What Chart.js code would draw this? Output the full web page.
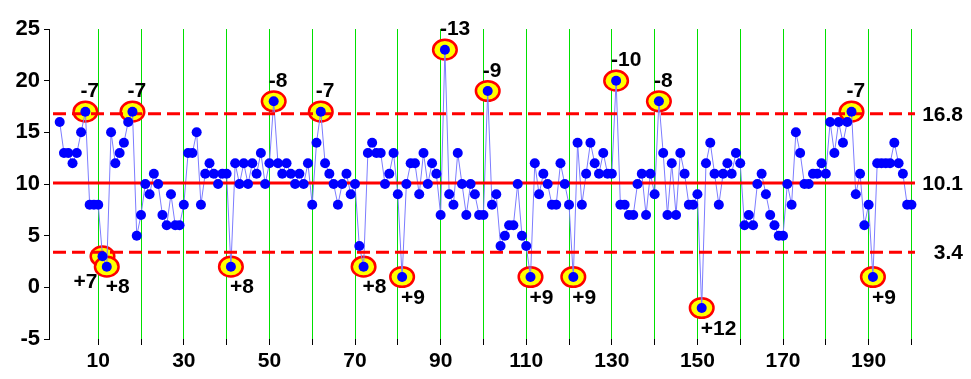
<!DOCTYPE html>
<html><head><meta charset="utf-8">
<script src="https://cdn.jsdelivr.net/npm/chart.js@4/dist/chart.umd.min.js"></script>
<style>html,body{margin:0;padding:0;background:#fff}#wrap{width:971px;height:379px}</style>
</head><body><div id="wrap"><canvas id="c" width="971" height="379"></canvas></div>
<script>
// observation values, sample 1..200
const values = [
 16,13,13,12,13,15,17,8,8,8,
 3,2,15,12,13,14,16,17,5,7,
 10,9,11,10,7,6,9,6,6,8,
 13,13,15,8,11,12,11,10,11,11,
 2,12,10,12,10,12,11,13,10,12,
 18,12,11,12,11,10,11,10,12,8,
 14,17,12,11,10,8,10,11,9,10,
 4,2,13,14,13,13,10,11,13,9,
 1,10,12,12,9,13,10,12,11,7,
 23,9,8,13,10,7,10,9,7,7,
 19,8,9,4,5,6,6,10,5,4,
 1,12,9,11,10,8,8,12,10,8,
 1,14,8,11,14,12,11,13,11,11,
 20,8,8,7,7,10,11,7,11,9,
 18,13,7,12,7,13,11,8,8,9,
 -2,12,14,11,8,11,12,11,13,12,
 6,7,6,10,11,9,7,6,5,5,
 10,8,15,13,10,10,11,11,12,11,
 16,13,16,14,16,17,9,11,6,8,
 1,12,12,12,12,14,12,11,8,8
];
const centerLine = 10.1;
const upperLimit = 16.8;
const lowerLimit = 3.4;
const limitLabels = ['16.8', '10.1', '3.4'];
const flaggedIndex = [7,11,12,18,41,51,62,72,81,91,101,111,121,131,141,151,186,191];
const flaggedLabels = ['-7','+7','+8','-7','+8','-8','-7','+8','+9','-13','-9','+9','+9','-10','-8','+12','-7','+9'];
const xTicks = [10,20,30,40,50,60,70,80,90,100,110,120,130,140,150,160,170,180,190,200];
const xTickLabels = ['10','','30','','50','','70','','90','','110','','130','','150','','170','','190',''];
const yTicks = [-5,0,5,10,15,20,25];

const points = values.map((v, i) => ({x: i + 1, y: v}));
const FONT = '"Liberation Sans", Arial, sans-serif';

const spcPlugin = {
  id: 'spc',
  beforeDatasetsDraw(chart) {
    const ctx = chart.ctx, xs = chart.scales.x, ys = chart.scales.y;
    ctx.save();
    flaggedIndex.forEach(idx => {
      const px = xs.getPixelForValue(idx), py = ys.getPixelForValue(values[idx - 1]);
      ctx.beginPath();
      ctx.ellipse(px, py, 11.8, 9.8, 0, 0, Math.PI * 2);
      ctx.fillStyle = '#ffff00';
      ctx.fill();
      ctx.lineWidth = 2.5;
      ctx.strokeStyle = '#ff0000';
      ctx.stroke();
    });
    ctx.restore();
  },
  beforeDatasetDraw(chart, args) {
    if (args.index !== 0) return;
    const ctx = chart.ctx, ys = chart.scales.y, a = chart.chartArea;
    ctx.save();
    ctx.strokeStyle = '#ff0000';
    ctx.lineWidth = 3;
    [[upperLimit, [13, 6]], [centerLine, []], [lowerLimit, [13, 6]]].forEach(([v, dash]) => {
      const y = ys.getPixelForValue(v);
      ctx.setLineDash(dash);
      ctx.beginPath();
      ctx.moveTo(a.left + 4, y);
      ctx.lineTo(a.right - 2, y);
      ctx.stroke();
    });
    ctx.restore();
  },
  afterDatasetsDraw(chart) {
    const ctx = chart.ctx, xs = chart.scales.x, ys = chart.scales.y;
    ctx.save();
    ctx.fillStyle = '#000';
    ctx.font = 'bold 21px ' + FONT;
    ctx.textBaseline = 'middle';
    flaggedIndex.forEach((idx, k) => {
      const v = values[idx - 1];
      const px = xs.getPixelForValue(idx), py = ys.getPixelForValue(v);
      const lbl = flaggedLabels[k];
      const below = v < centerLine;
      if (below) {
        const crowded = flaggedIndex[k + 1] === idx + 1 && values[idx] < centerLine;
        if (crowded) {
          ctx.textAlign = 'right';
          ctx.fillText(lbl, px - 5, py + 26);
        } else {
          ctx.textAlign = 'left';
          ctx.fillText(lbl, px - 1, py + 21);
        }
      } else {
        ctx.textAlign = 'left';
        ctx.fillText(lbl, px - 5, py - 20);
      }
    });
    ctx.textAlign = 'right';
    [upperLimit, centerLine, lowerLimit].forEach((v, k) => {
      ctx.fillText(limitLabels[k], 963, ys.getPixelForValue(v) + 1);
    });
    ctx.restore();
  }
};

new Chart(document.getElementById('c'), {
  type: 'scatter',
  data: {
    datasets: [
      {
        data: points,
        showLine: false,
        pointRadius: 5,
        pointHoverRadius: 5,
        pointBackgroundColor: '#0000ff',
        pointBorderColor: '#0000ff',
        pointBorderWidth: 0
      },
      {
        data: points,
        showLine: true,
        borderColor: '#7c7cff',
        borderWidth: 1,
        pointRadius: 0,
        tension: 0
      }
    ]
  },
  options: {
    responsive: false,
    animation: false,
    devicePixelRatio: 1,
    layout: {padding: {left: 0, right: 54, top: 29, bottom: 0}},
    plugins: {legend: {display: false}, tooltip: {enabled: false}},
    scales: {
      x: {
        type: 'linear',
        min: -1.5,
        max: 201.3,
        afterBuildTicks: s => { s.ticks = xTicks.map(v => ({value: v})); },
        afterFit: s => { s.height = 40; },
        ticks: {
          autoSkip: false,
          maxRotation: 0,
          callback: (v, i) => xTickLabels[i],
          font: {family: FONT, weight: 'bold', size: 21},
          color: '#000',
          padding: 4
        },
        grid: {
          color: '#00e000',
          lineWidth: 1,
          tickColor: '#000',
          tickLength: 6,
          drawOnChartArea: true
        },
        border: {display: false}
      },
      y: {
        type: 'linear',
        min: -5,
        max: 25,
        afterBuildTicks: s => { s.ticks = yTicks.map(v => ({value: v})); },
        afterFit: s => { s.width = 49; },
        ticks: {
          font: {family: FONT, weight: 'bold', size: 22},
          color: '#000',
          padding: 4
        },
        grid: {
          drawOnChartArea: false,
          tickLength: 5,
          tickColor: '#000',
          color: '#000'
        },
        border: {display: true, color: '#000', width: 1}
      }
    }
  },
  plugins: [spcPlugin]
});
</script>
</body></html>
